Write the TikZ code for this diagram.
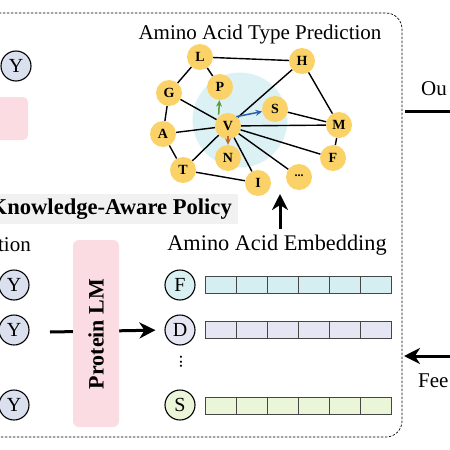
\documentclass[tikz,border=0pt]{standalone}
\usepackage{fontspec}
\setmainfont{Liberation Serif}
\usetikzlibrary{arrows.meta}
\definecolor{aayellow}{RGB}{250,210,104}
\definecolor{blob}{RGB}{220,241,244}
\definecolor{lav}{RGB}{218,224,238}
\definecolor{pinkbox}{RGB}{251,220,226}
\definecolor{graybg}{RGB}{241,241,241}
\definecolor{rowA}{RGB}{212,238,241}
\definecolor{rowB}{RGB}{228,230,244}
\definecolor{rowC}{RGB}{235,245,216}
\definecolor{cellline}{RGB}{70,70,70}
\definecolor{garrow}{RGB}{90,155,60}
\definecolor{barrow}{RGB}{45,95,170}
\definecolor{oarrow}{RGB}{195,105,40}
\begin{document}
\begin{tikzpicture}[x=1pt,y=-1pt,
  aa/.style={circle, fill=aayellow, minimum size=26pt, inner sep=0pt, font=\fontsize{14}{14}\selectfont\bfseries},
  res/.style={circle, draw, line width=1.1pt, minimum size=30pt, inner sep=0pt, font=\fontsize{20}{20}\selectfont},
  lbl/.style={font=\fontsize{21}{24}\selectfont, inner sep=0pt},
  gedge/.style={line width=1.4pt},
  carrow/.style={line width=1.5pt, -{Stealth[length=6.5pt,width=6pt]}},
  bigarrow/.style={line width=3pt, -{Stealth[length=16pt,width=16pt,inset=5pt]}},
  dashbox/.style={draw, line width=0.7pt, dash pattern=on 2.5pt off 1.5pt, rounded corners=16pt},
  cell/.style={draw=cellline, line width=0.8pt}]
\useasboundingbox (0,0) rectangle (450,450);

% dashed container
\draw[dashbox] (-30,13) rectangle (402,437);

% left partial elements
\node[res, fill=lav] (ytop) at (16,66) {Y};
\fill[pinkbox, rounded corners=5pt] (-10,97) rectangle (28,140);
\node[lbl, anchor=east] (tion) at (31,245) {tion};
\node[res, fill=lav] (y1) at (14,285) {Y};
\node[res, fill=lav] (y2) at (14,330) {Y};
\node[res, fill=lav] (y3) at (14,405) {Y};

% Knowledge-Aware Policy label
\fill[graybg] (-5,194) rectangle (238,224);
\node[lbl, anchor=east, font=\fontsize{22.6}{24}\selectfont\bfseries] (kap) at (232,209) {Knowledge-Aware Policy};

% Amino Acid Type Prediction
\node[lbl] (atp) at (260,34) {Amino Acid Type Prediction};
\fill[blob] (240,120) circle (47.5);
\node[aa] (L) at (200,57) {L};
\node[aa] (H) at (302,61) {H};
\node[aa] (G) at (169,93) {G};
\node[aa] (P) at (220,87) {P};
\node[aa] (V) at (228,126) {V};
\node[aa] (S) at (275,109) {S};
\node[aa] (M) at (339,125) {M};
\node[aa] (A) at (163,134) {A};
\node[aa] (N) at (228,158) {N};
\node[aa] (F) at (333,158) {F};
\node[aa] (T) at (183,170) {T};
\node[aa] (I) at (258,183) {I};
\node[aa, font=\fontsize{12}{12}\selectfont\bfseries] (dots) at (299,177) {\raisebox{3pt}{...}};

\foreach \a/\b in {L/H, L/G, L/P, G/A, G/V, A/V, A/T, T/V, T/I, V/H, V/M, V/F, V/I, V/dots, S/M, H/M, M/F}
  \draw[gedge] (\a) -- (\b);
\draw[carrow, garrow] ([yshift=2pt]V.north west) -- (P);
\draw[carrow, barrow] ([xshift=-1pt]V.north east) -- (S);
\draw[carrow, oarrow] ([yshift=3pt]V.south) -- (N.north);

% up arrow
\coordinate (upfrom) at (280,229);
\coordinate (upto) at (280,194);
\draw[bigarrow] (upfrom) -- (upto);

% Amino Acid Embedding
\node[lbl, font=\fontsize{22.3}{24}\selectfont] (aae) at (277,245) {Amino Acid Embedding};
\node[res, fill=rowA!90!white] (rF) at (180,285) {F};
\node[res, fill=rowB] (rD) at (180,330) {D};
\node[res, fill=rowC] (rS) at (180,405) {S};
\node[font=\fontsize{18}{18}\selectfont, inner sep=0pt] (vd) at (181,362) {\rotatebox{90}{...}};
\foreach \y/\c in {285/rowA, 330/rowB, 406/rowC}
  \foreach \i in {0,...,5}
    \draw[cell, fill=\c] (205+31*\i,\y-8.5) rectangle ++(31,17);

% Protein LM
\coordinate (pin) at (50,332);
\draw[bigarrow, shorten >=9pt] (pin) -- (rD.west);
\node[fill=pinkbox, rounded corners=6pt, minimum width=46pt, minimum height=187pt, inner sep=0pt] (plm) at (96,333.5) {};
\node[rotate=90, font=\fontsize{22}{24}\selectfont\bfseries, inner sep=0pt] (plmt) at (96,334) {Protein LM};

% right side
\node[lbl, anchor=west] (ou) at (421,89) {Ou};
\coordinate (outa) at (405,111);
\coordinate (outb) at (452,111);
\draw[line width=3pt] (outa) -- (outb);
\coordinate (fba) at (452,356);
\coordinate (fbb) at (404,356);
\draw[bigarrow] (fba) -- (fbb);
\node[lbl, anchor=west] (fee) at (418,381) {Fee};
\end{tikzpicture}
\end{document}
